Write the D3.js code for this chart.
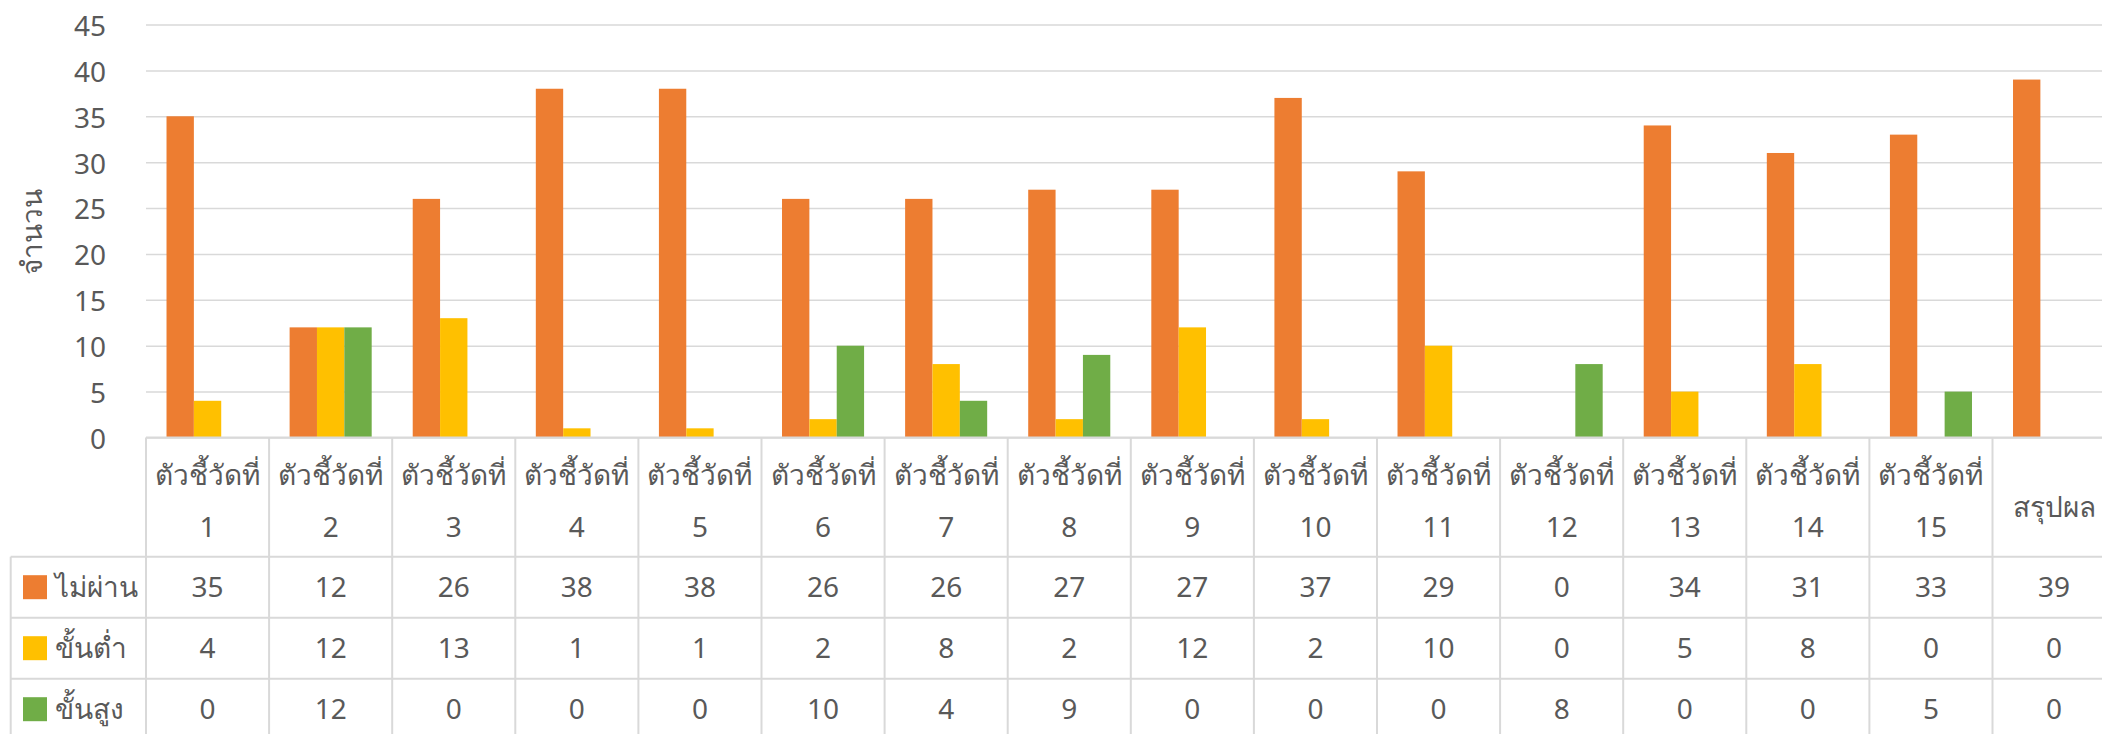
<!DOCTYPE html>
<html>
<head>
<meta charset="utf-8">
<script src="https://cdn.jsdelivr.net/npm/d3@7"></script>
<style>
  body { margin: 0; background: #fff; }
  svg { display: block; font-family: "Noto Sans", "DejaVu Sans", sans-serif; }
  text { fill: #595959; }
</style>
</head>
<body>
<script>
// Values.
const categories = ['ตัวชี้วัดที่ 1', 'ตัวชี้วัดที่ 2', 'ตัวชี้วัดที่ 3', 'ตัวชี้วัดที่ 4', 'ตัวชี้วัดที่ 5',
  'ตัวชี้วัดที่ 6', 'ตัวชี้วัดที่ 7', 'ตัวชี้วัดที่ 8', 'ตัวชี้วัดที่ 9', 'ตัวชี้วัดที่ 10',
  'ตัวชี้วัดที่ 11', 'ตัวชี้วัดที่ 12', 'ตัวชี้วัดที่ 13', 'ตัวชี้วัดที่ 14', 'ตัวชี้วัดที่ 15', 'สรุปผล'];
const seriesNames = ['ไม่ผ่าน', 'ขั้นต่ำ', 'ขั้นสูง'];
const failed = [35, 12, 26, 38, 38, 26, 26, 27, 27, 37, 29, 0, 34, 31, 33, 39];
const lowLevel = [4, 12, 13, 1, 1, 2, 8, 2, 12, 2, 10, 0, 5, 8, 0, 0];
const highLevel = [0, 12, 0, 0, 0, 10, 4, 9, 0, 0, 0, 8, 0, 0, 5, 0];
const yTicks = [0, 5, 10, 15, 20, 25, 30, 35, 40, 45];
const yTitle = 'จำนวน';
const colors = ['#ED7D31', '#FFC000', '#70AD47'];

const width = 2102;
const height = 734;
const plotLeft = 146;
const band = 123.1;
const plotTop = 24.5;
const plotBottom = 437.5;
const headerBottom = 556.7;
const rowHeight = 61;
const tableLeft = 10.7;
const fontSize = 28;

const seriesValues = [failed, lowLevel, highLevel];
const rows = categories.map((c, i) => ({
  category: c,
  values: seriesNames.map((s, j) => ({ series: s, index: j, value: seriesValues[j][i] }))
}));

const x = d3.scaleBand()
  .domain(categories)
  .range([plotLeft, plotLeft + band * categories.length]);

const xInner = d3.scaleBand()
  .domain(seriesNames)
  .range([0, x.bandwidth()])
  .paddingOuter(0.75);

const y = d3.scaleLinear()
  .domain([0, 45])
  .range([plotBottom, plotTop]);

const color = d3.scaleOrdinal(seriesNames, colors);

const svg = d3.select('body')
  .append('svg')
  .attr('width', width)
  .attr('height', height);

// gridlines + tick labels
const plotRight = plotLeft + band * categories.length;
const yAxis = svg.append('g')
  .attr('transform', `translate(${plotLeft},0)`)
  .call(d3.axisLeft(y).tickValues(yTicks).tickSize(-(plotRight - plotLeft)).tickPadding(40));
yAxis.select('.domain').remove();
yAxis.selectAll('line')
  .attr('stroke', '#d9d9d9')
  .attr('stroke-width', 1.5);
yAxis.selectAll('text')
  .attr('font-size', fontSize)
  .attr('font-family', '"Noto Sans", "DejaVu Sans", sans-serif')
  .attr('fill', '#595959')
  .attr('dy', '0.39em');

svg.append('text')
  .attr('transform', `translate(32,232) rotate(-90)`)
  .attr('text-anchor', 'middle')
  .attr('dy', '0.35em')
  .attr('font-size', fontSize)
  .text(yTitle);

// bars
const groups = svg.append('g')
  .selectAll('g')
  .data(rows)
  .join('g')
  .attr('transform', d => `translate(${x(d.category)},0)`);

groups.selectAll('rect')
  .data(d => d.values.filter(v => v.value > 0))
  .join('rect')
  .attr('x', d => xInner(d.series))
  .attr('width', xInner.bandwidth())
  .attr('y', d => y(d.value))
  .attr('height', d => y(0) - y(d.value))
  .attr('fill', d => color(d.series));

// data table
const table = svg.append('g');
const lineColor = '#d9d9d9';
const rowLines = [headerBottom, headerBottom + rowHeight, headerBottom + rowHeight * 2];

table.append('line')
  .attr('x1', plotLeft).attr('x2', plotRight)
  .attr('y1', plotBottom).attr('y2', plotBottom)
  .attr('stroke', lineColor).attr('stroke-width', 2);

table.selectAll('.hline')
  .data(rowLines)
  .join('line')
  .attr('x1', tableLeft).attr('x2', plotRight)
  .attr('y1', d => d).attr('y2', d => d)
  .attr('stroke', lineColor).attr('stroke-width', 2);

table.selectAll('.vline')
  .data(categories.concat(['end']))
  .join('line')
  .attr('x1', (d, i) => plotLeft + i * x.step())
  .attr('x2', (d, i) => plotLeft + i * x.step())
  .attr('y1', plotBottom).attr('y2', height)
  .attr('stroke', lineColor).attr('stroke-width', 2);

table.append('line')
  .attr('x1', tableLeft).attr('x2', tableLeft)
  .attr('y1', headerBottom).attr('y2', height)
  .attr('stroke', lineColor).attr('stroke-width', 2);

// header labels
const headers = table.selectAll('.header')
  .data(categories)
  .join('text')
  .attr('text-anchor', 'middle')
  .attr('font-size', fontSize);

headers.each(function(d) {
  const t = d3.select(this);
  const cx = x(d) + x.bandwidth() / 2;
  const parts = d.split(' ');
  if (parts.length > 1) {
    t.append('tspan').attr('x', cx).attr('y', 485).text(parts[0]);
    t.append('tspan').attr('x', cx).attr('y', 537).text(parts[1]);
  } else {
    t.append('tspan').attr('x', cx).attr('y', 517).text(d);
  }
});

// value rows + legend keys
seriesNames.forEach((s, j) => {
  const cy = headerBottom + rowHeight * j + rowHeight / 2;
  table.append('rect')
    .attr('x', 23).attr('y', cy - 12)
    .attr('width', 24).attr('height', 24)
    .attr('fill', color(s));
  table.append('text')
    .attr('x', 55).attr('y', cy + 10)
    .attr('font-size', fontSize)
    .text(s);
  table.selectAll(`.v${j}`)
    .data(rows)
    .join('text')
    .attr('x', d => x(d.category) + x.bandwidth() / 2)
    .attr('y', cy + 10)
    .attr('text-anchor', 'middle')
    .attr('font-size', fontSize)
    .text(d => d.values[j].value);
});
</script>
</body>
</html>
